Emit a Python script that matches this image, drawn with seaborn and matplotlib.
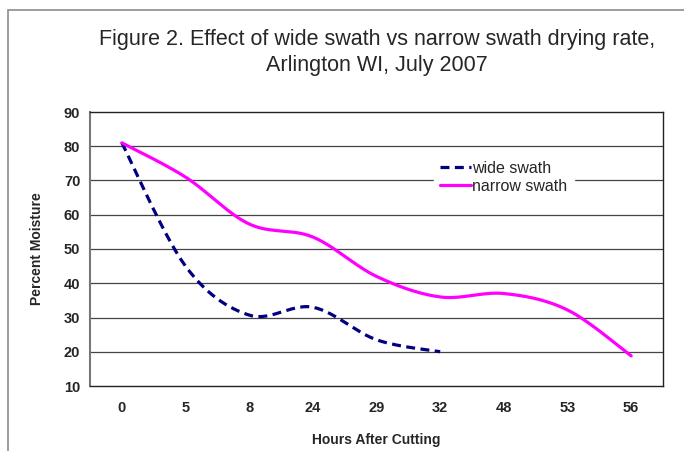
import numpy as np
import pandas as pd
import matplotlib
matplotlib.use("Agg")
import matplotlib.pyplot as plt
from matplotlib.patches import Rectangle
import seaborn as sns

# data
hours = ["0", "5", "8", "24", "29", "32", "48", "53", "56"]
wide_swath = [81, 45, 30.7, 33, 23.5, 20]
narrow_swath = [81, 71, 57.3, 53.5, 42, 36, 37, 32.2, 18.8]
y_ticks = [10, 20, 30, 40, 50, 60, 70, 80, 90]


def smooth(values, n=30):
    # Excel style smoothed line: Bezier segments with 1/6 tangent control points
    x = np.arange(len(values), dtype=float)
    y = np.asarray(values, dtype=float)
    px = np.concatenate([[x[0]], x, [x[-1]]])
    py = np.concatenate([[y[0]], y, [y[-1]]])
    xs, ys = [], []
    t = np.linspace(0, 1, n)
    for i in range(len(x) - 1):
        p0 = np.array([px[i + 1], py[i + 1]])
        p3 = np.array([px[i + 2], py[i + 2]])
        c1 = p0 + (p3 - np.array([px[i], py[i]])) / 6
        c2 = p3 - (np.array([px[i + 3], py[i + 3]]) - p0) / 6
        b = ((1 - t) ** 3)[:, None] * p0 + (3 * (1 - t) ** 2 * t)[:, None] * c1 \
            + (3 * (1 - t) * t ** 2)[:, None] * c2 + (t ** 3)[:, None] * p3
        xs.extend(b[:, 0]); ys.extend(b[:, 1])
    return pd.DataFrame({"x": xs, "y": ys})


sns.set_style("white")
plt.rcParams['font.family'] = ['Liberation Sans', 'DejaVu Sans']

fig = plt.figure(figsize=(6.84, 4.51), dpi=100)
ax = fig.add_axes([90 / 684, 65 / 451, 573 / 684, 274 / 451])

# outer chart frame (runs off the right and bottom edges)
fig.patches.append(Rectangle((8 / 684, -0.1), 1.2, 0.1 + 441 / 451, transform=fig.transFigure,
                             fill=False, edgecolor='#8c8c8c', linewidth=1.2))

for yv in y_ticks[1:-1]:
    ax.axhline(yv, color='#444444', linewidth=0.9, zorder=1)

wide_df = smooth(wide_swath)
narrow_df = smooth(narrow_swath)
sns.lineplot(data=wide_df, x="x", y="y", ax=ax, sort=False, color='#000080',
             linewidth=2.3, dashes=False, label='wide swath', zorder=3)
ax.lines[-1].set_dashes((2.8, 1.7))
sns.lineplot(data=narrow_df, x="x", y="y", ax=ax, sort=False, color='#FF00FF',
             linewidth=2.3, label='narrow swath', zorder=3)

ax.set_xlim(-0.5, len(hours) - 0.5)
ax.set_ylim(10, 90)
ax.set_yticks(y_ticks)
ax.set_yticklabels([str(v) for v in y_ticks], fontsize=10.5, fontweight='bold')
ax.set_xticks(range(len(hours)))
ax.set_xticklabels(hours, fontsize=10.5, fontweight='bold')
ax.set_xticks(np.arange(-0.5, len(hours)), minor=True)
ax.tick_params(axis='x', which='major', length=0, pad=11)
ax.tick_params(axis='x', which='minor', length=4, width=0.8, color='#333333', direction='out')
ax.tick_params(axis='y', which='major', length=4, width=0.8, color='#333333', direction='out', pad=3)

for side in ['top', 'right', 'bottom']:
    ax.spines[side].set_color('#222222')
    ax.spines[side].set_linewidth(1.0)
ax.spines['left'].set_color('#777777')
ax.spines['left'].set_linewidth(1.5)

ax.set_xlabel('Hours After Cutting', fontsize=10, fontweight='bold', labelpad=13)
ax.set_ylabel('Percent Moisture', fontsize=10, fontweight='bold', labelpad=14)

fig.text(377 / 684, 1 - 40 / 451, 'Figure 2. Effect of wide swath vs narrow swath drying rate,',
         ha='center', va='center', fontsize=15.5)
fig.text(377 / 684, 1 - 66 / 451, 'Arlington WI, July 2007', ha='center', va='center', fontsize=15.5)

leg = ax.legend(loc='upper left', bbox_to_anchor=(0.60, 0.845), frameon=True, fontsize=11.5,
                handlelength=1.9, handletextpad=0.1, labelspacing=0.2, borderpad=0.4,
                borderaxespad=0, fancybox=False)
leg.get_frame().set_edgecolor('white')
leg.get_frame().set_facecolor('white')
leg.get_frame().set_alpha(1)

fig.savefig('out.png', dpi=100)
